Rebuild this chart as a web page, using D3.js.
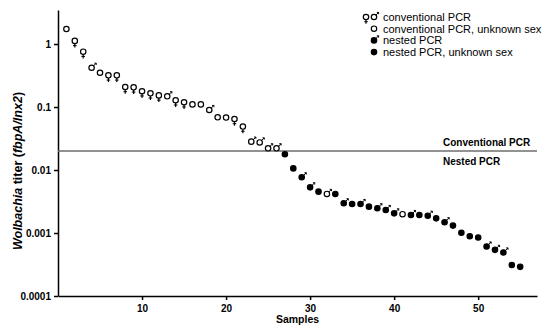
<!DOCTYPE html>
<html>
<head>
<meta charset="utf-8">
<script src="https://cdn.jsdelivr.net/npm/d3@7"></script>
<style>
  body { margin: 0; background: #fff; }
  text { font-family: "Liberation Sans", Arial, sans-serif; }
  .axis path, .axis line { stroke: #000; stroke-width: 1.5; }
  .axis text { font-size: 10px; font-weight: bold; fill: #000; }
</style>
</head>
<body>
<div id="chart"></div>
<script>
// Wolbachia titer per sample, ranked high to low
var titers = [1.73, 1.12, 0.755, 0.42, 0.35, 0.318, 0.318, 0.208, 0.205, 0.178,
              0.165, 0.153, 0.148, 0.128, 0.119, 0.110, 0.110, 0.0896, 0.0686, 0.068,
              0.0645, 0.049, 0.0282, 0.0274, 0.0221, 0.0221, 0.0178, 0.0106, 0.00766, 0.00531,
              0.00453, 0.00417, 0.00417, 0.00296, 0.00288, 0.00288, 0.00262, 0.00247, 0.00232, 0.00205,
              0.00199, 0.00193, 0.00193, 0.00188, 0.00171, 0.00148, 0.00131, 0.00101, 0.00089, 0.00085,
              0.00061, 0.00054, 0.00049, 0.00031, 0.00029];
// sex: f = female, m = male, u = unknown
var sexes = ["u","f","f","m","u","f","f","f","f","f",
             "f","f","m","f","f","u","u","m","u","u",
             "f","f","m","m","m","m","u","u","m","m",
             "u","m","u","m","u","m","u","m","m","m",
             "u","m","u","m","u","m","u","u","u","u",
             "m","m","m","u","u"];
// detection method: c = conventional PCR, n = nested PCR
var methods = ["c","c","c","c","c","c","c","c","c","c",
               "c","c","c","c","c","c","c","c","c","c",
               "c","c","c","c","c","c","n","n","n","n",
               "n","c","n","n","n","n","n","n","n","n",
               "c","n","n","n","n","n","n","n","n","n",
               "n","n","n","n","n"];
var xTicks = [10, 20, 30, 40, 50];
var yTicks = [1, 0.1, 0.01, 0.001, 0.0001];
var threshold = 0.02;
var legendItems = [
  {label: "conventional PCR", method: "c", sex: ["f", "m"]},
  {label: "conventional PCR, unknown sex", method: "c", sex: ["u"]},
  {label: "nested PCR", method: "n", sex: ["m"]},
  {label: "nested PCR, unknown sex", method: "n", sex: ["u"]}
];

var data = titers.map(function(v, i) {
  return {sample: i + 1, titer: v, sex: sexes[i], method: methods[i]};
});

var width = 550, height = 332;

var xScale = d3.scaleLinear()
      .domain([0, 57])
      .range([58, 537]),
    yScale = d3.scaleLog()
      .domain([0.0001, Math.pow(10, 0.54)])
      .range([296, 10]);

var svg = d3.select("#chart").append("svg")
    .attr("width", width)
    .attr("height", height);

// x axis
svg.append("g")
    .attr("class", "axis")
    .attr("transform", "translate(0,296)")
    .call(d3.axisBottom(xScale).tickValues(xTicks).tickSize(4).tickSizeOuter(0))
    .selectAll("text").attr("dy", "0.9em");

// y axis
svg.append("g")
    .attr("class", "axis")
    .attr("transform", "translate(58,0)")
    .call(d3.axisLeft(yScale).tickValues(yTicks).tickSize(4).tickSizeOuter(0)
      .tickFormat(function(d) { return String(d); }));

// axis labels
svg.append("text")
    .attr("x", xScale(28.5))
    .attr("y", 323)
    .attr("text-anchor", "middle")
    .style("font-size", "10.5px")
    .style("font-weight", "bold")
    .text("Samples");

var ylab = svg.append("text")
    .attr("transform", "translate(22,171) rotate(-90)")
    .attr("text-anchor", "middle")
    .style("font-size", "12.5px")
    .style("font-weight", "bold");
ylab.append("tspan").style("font-style", "italic").text("Wolbachia");
ylab.append("tspan").text(" titer (");
ylab.append("tspan").style("font-style", "italic").text("fbpA/lnx2");
ylab.append("tspan").text(")");

// threshold line between conventional and nested PCR
svg.append("line")
    .attr("x1", xScale(0))
    .attr("x2", xScale(57))
    .attr("y1", yScale(threshold))
    .attr("y2", yScale(threshold))
    .attr("stroke", "#6e6e6e")
    .attr("stroke-width", 1.5);

svg.append("text")
    .attr("x", 443)
    .attr("y", yScale(threshold) - 5)
    .style("font-size", "10px")
    .style("font-weight", "bold")
    .text("Conventional PCR");

svg.append("text")
    .attr("x", 443)
    .attr("y", yScale(threshold) + 14)
    .style("font-size", "10px")
    .style("font-weight", "bold")
    .text("Nested PCR");

// draws one marker: circle, plus a sex sign
function marker(g, sex, method) {
  var r = 2.7;
  g.append("circle")
      .attr("r", r)
      .attr("fill", method === "n" ? "#000" : "#fff")
      .attr("stroke", "#000")
      .attr("stroke-width", 1.2);
  if (sex === "f") {
    g.append("line").attr("x1", 0).attr("x2", 0).attr("y1", r).attr("y2", r + 4)
        .attr("stroke", "#000").attr("stroke-width", 1.2);
    g.append("line").attr("x1", -1.8).attr("x2", 1.8).attr("y1", r + 2).attr("y2", r + 2)
        .attr("stroke", "#000").attr("stroke-width", 1);
  } else if (sex === "m") {
    g.append("path")
        .attr("d", "M1.9,-1.9 L4.6,-4.6 M2.8,-4.6 L4.6,-4.6 L4.6,-2.8")
        .attr("fill", "none")
        .attr("stroke", "#000")
        .attr("stroke-width", 1);
  }
}

// data points
svg.append("g")
  .selectAll("g")
    .data(data)
  .enter().append("g")
    .attr("transform", function(d) { return "translate(" + xScale(d.sample) + "," + yScale(d.titer) + ")"; })
    .each(function(d) { marker(d3.select(this), d.sex, d.method); });

// legend
var legend = svg.append("g")
  .selectAll("g")
    .data(legendItems)
  .enter().append("g")
    .attr("transform", function(d, i) { return "translate(0," + (17 + i * 11.7) + ")"; });

legend.each(function(d) {
  var row = d3.select(this);
  d.sex.forEach(function(s, j) {
    var g = row.append("g").attr("transform", "translate(" + (d.sex.length === 2 ? 366 + j * 8 : 374) + ",0)");
    marker(g, s, d.method);
  });
  row.append("text")
      .attr("x", 383)
      .attr("y", 4)
      .style("font-size", "11px")
      .text(d.label);
});
</script>
</body>
</html>
